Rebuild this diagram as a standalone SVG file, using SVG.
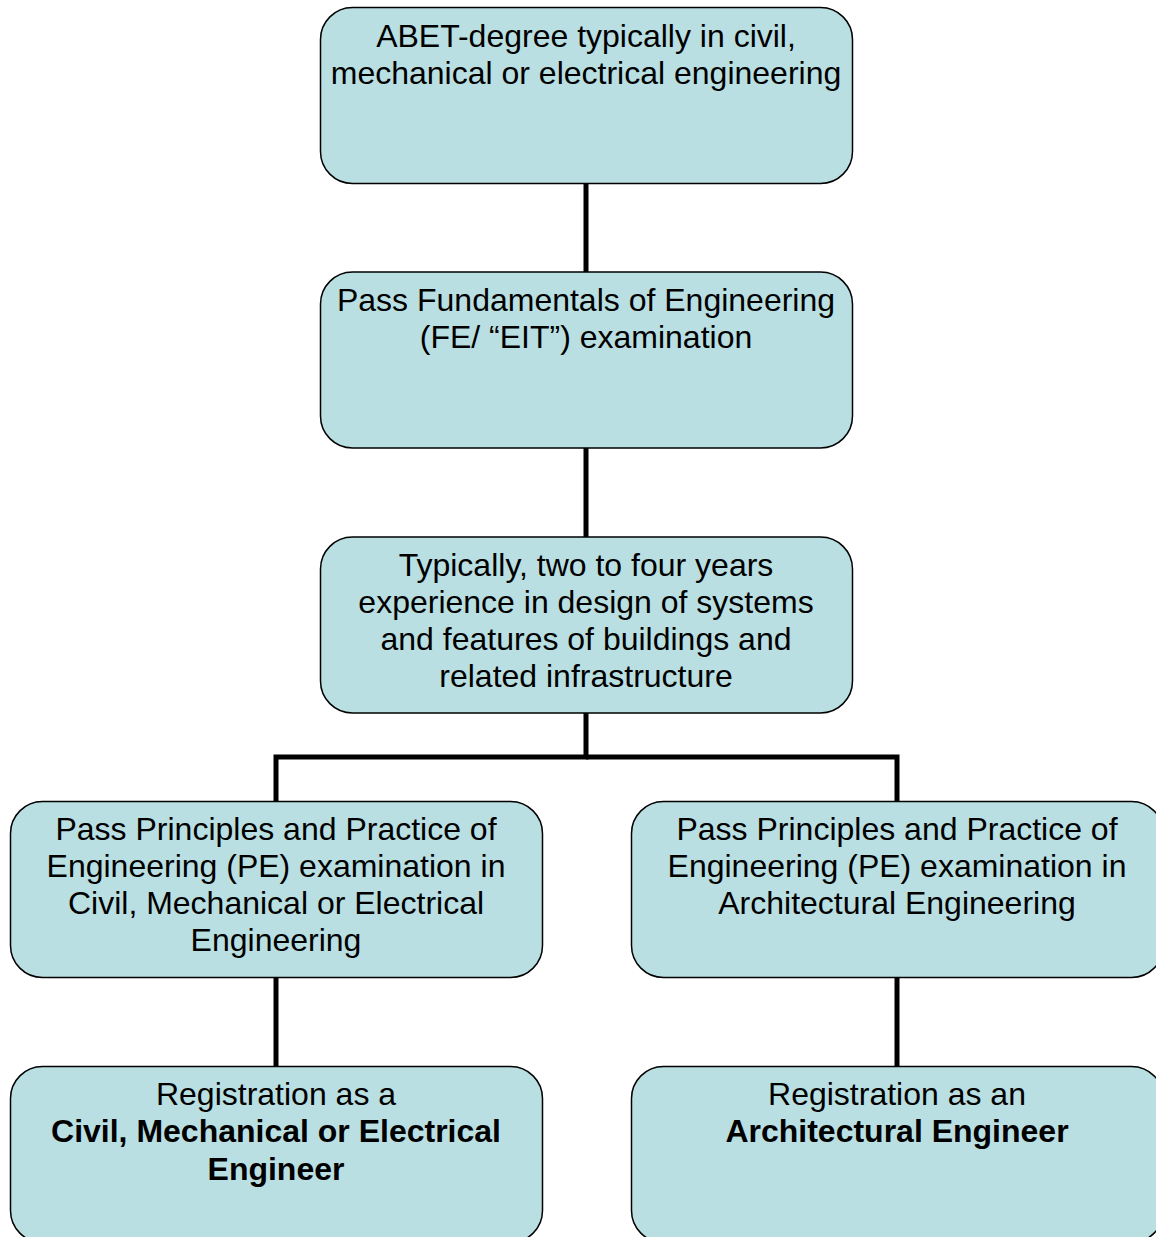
<svg xmlns="http://www.w3.org/2000/svg" width="1156" height="1237" viewBox="0 0 1156 1237">
<style>
.box{fill:#B9DFE2;stroke:#000;stroke-width:1.5}
.t{font-family:"Liberation Sans",Arial,sans-serif;font-size:32px;fill:#000;text-anchor:middle}
.b{font-weight:bold}
.c{fill:none;stroke:#000;stroke-width:5}
</style>
<rect width="1156" height="1237" fill="#fff"/>
<g id="connectors">
<line class="c" x1="586" y1="183" x2="586" y2="272"/>
<line class="c" x1="586" y1="447" x2="586" y2="537"/>
<polyline class="c" points="586,712 586,757 276,757 276,801"/>
<polyline class="c" points="586,757 897,757 897,801"/>
<line class="c" x1="276" y1="977" x2="276" y2="1066"/>
<line class="c" x1="897" y1="977" x2="897" y2="1066"/>
</g>
<g id="n1">
<rect class="box" x="320.5" y="7.5" width="532" height="176" rx="32"/>
<text class="t" x="586" y="47">ABET-degree typically in civil,</text>
<text class="t" x="586" y="84">mechanical or electrical engineering</text>
</g>
<g id="n2">
<rect class="box" x="320.5" y="272" width="532" height="176" rx="32"/>
<text class="t" x="586" y="311">Pass Fundamentals of Engineering</text>
<text class="t" x="586" y="348">(FE/ “EIT”) examination</text>
</g>
<g id="n3">
<rect class="box" x="320.5" y="537" width="532" height="176" rx="32"/>
<text class="t" x="586" y="576">Typically, two to four years</text>
<text class="t" x="586" y="613">experience in design of systems</text>
<text class="t" x="586" y="650">and features of buildings and</text>
<text class="t" x="586" y="687">related infrastructure</text>
</g>
<g id="n4">
<rect class="box" x="10.5" y="801.5" width="532" height="176" rx="32"/>
<text class="t" x="276" y="840">Pass Principles and Practice of</text>
<text class="t" x="276" y="877">Engineering (PE) examination in</text>
<text class="t" x="276" y="914">Civil, Mechanical or Electrical</text>
<text class="t" x="276" y="951">Engineering</text>
</g>
<g id="n5">
<rect class="box" x="631.5" y="801.5" width="532" height="176" rx="32"/>
<text class="t" x="897" y="840">Pass Principles and Practice of</text>
<text class="t" x="897" y="877">Engineering (PE) examination in</text>
<text class="t" x="897" y="914">Architectural Engineering</text>
</g>
<g id="n6">
<rect class="box" x="10.5" y="1066.5" width="532" height="176" rx="32"/>
<text class="t" x="276" y="1105">Registration as a</text>
<text class="t b" x="276" y="1142">Civil, Mechanical or Electrical</text>
<text class="t b" x="276" y="1180">Engineer</text>
</g>
<g id="n7">
<rect class="box" x="631.5" y="1066.5" width="532" height="176" rx="32"/>
<text class="t" x="897" y="1105">Registration as an</text>
<text class="t b" x="897" y="1142">Architectural Engineer</text>
</g>
</svg>
